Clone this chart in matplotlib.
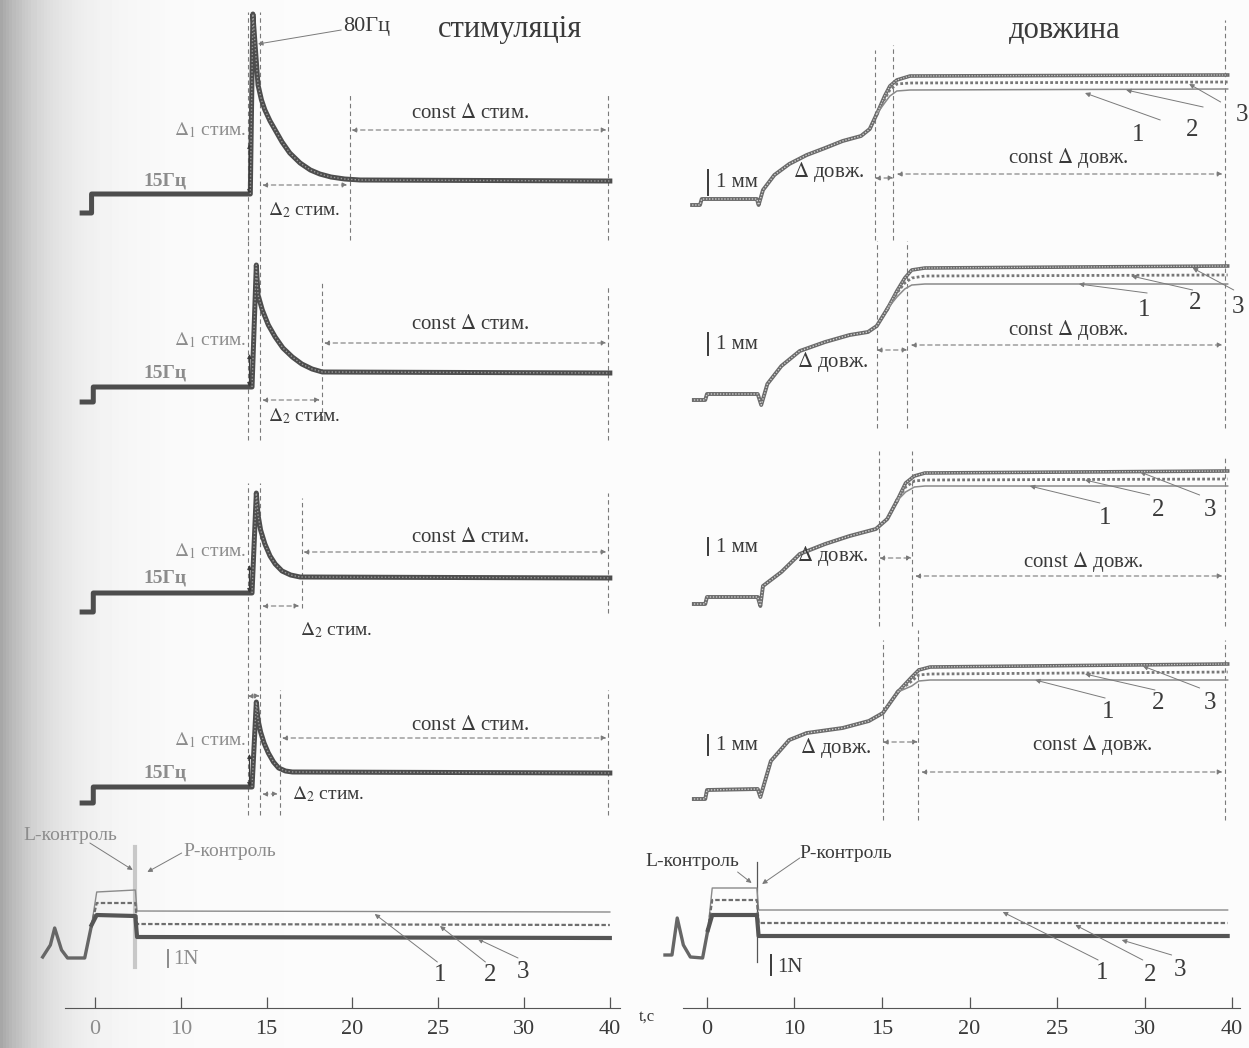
"""
Відтворення рисунка: стимуляція / довжина / сила (сканована ілюстрація).
Вісь часу має нерівномірні підписи, тому x задано в позиціях поділок (0..6).
"""
import matplotlib
matplotlib.use("Agg")
import matplotlib.pyplot as plt
import numpy as np

plt.rcParams["font.family"] = ["Liberation Serif", "DejaVu Serif"]
plt.rcParams["mathtext.fontset"] = "stix"

# ---------- дані (x: позиція поділки, y: умовні одиниці) ----------
tick_pos = [0, 1, 2, 3, 4, 5, 6]
tick_labels = ["0", "10", "15", "20", "25", "30", "40"]

# стимуляція, 4 ряди
stim1_t = [-0.15, -0.04, -0.04, 1.81, 1.84, 1.87, 1.90, 1.94, 1.98, 2.04, 2.10, 2.18, 2.27,
           2.39, 2.51, 2.62, 2.75, 2.91, 3.09, 6.00]
stim1_y = [27, 27, 46, 46, 226, 190, 155, 140, 130, 119, 110, 98, 87, 77, 70, 66, 63, 61, 60, 59]
stim2_t = [-0.15, -0.02, -0.02, 1.83, 1.88, 1.90, 1.95, 2.02, 2.10, 2.19, 2.30, 2.41, 2.53, 2.65, 6.00]
stim2_y = [38, 38, 53, 53, 175, 145, 130, 115, 103, 92, 83, 76, 71, 68, 67]
stim3_t = [-0.15, -0.02, -0.02, 1.83, 1.88, 1.90, 1.93, 1.98, 2.04, 2.10, 2.18, 2.28, 2.39, 6.00]
stim3_y = [28, 28, 47, 47, 147, 125, 110, 96, 84, 76, 69, 65, 63, 62]
stim4_t = [-0.15, -0.02, -0.02, 1.83, 1.88, 1.90, 1.93, 1.97, 2.02, 2.08, 2.14, 2.22, 2.30, 6.00]
stim4_y = [17, 17, 33, 33, 118, 100, 88, 77, 67, 58, 52, 49, 48, 47]
stim_settle_t = [2.97, 2.65, 2.41, 2.16]      # кінець Δ2 стим.

# довжина: спільна частина + три хвости (3, 2, 1)
len1_pre_t = [-0.17, -0.08, -0.06, 0.57, 0.59, 0.64, 0.77, 0.94, 1.14, 1.35, 1.55, 1.76, 1.86, 1.94]
len1_pre_y = [35, 35, 41, 41, 35, 50, 65, 76, 85, 92, 99, 104, 111, 126]
len1_tail_t = [1.94, 2.03, 2.09, 2.17, 2.32, 5.95]
len1_tail_y = [[126, 144, 154, 160, 164, 165],
               [126, 141, 150, 156, 157, 158],
               [126, 137, 144, 149, 150, 151]]

len2_pre_t = [-0.15, -0.02, 0.0, 0.58, 0.62, 0.69, 0.85, 1.06, 1.35, 1.63, 1.84, 1.94, 2.06]
len2_pre_y = [40, 40, 46, 46, 35, 56, 74, 89, 98, 105, 108, 114, 131]
len2_tail_t = [2.06, 2.17, 2.26, 2.34, 2.49, 5.95]
len2_tail_y = [[131, 149, 162, 170, 172, 174],
               [131, 147, 157, 162, 164, 165],
               [131, 143, 151, 155, 156, 156]]

len3_pre_t = [-0.15, -0.02, 0.0, 0.58, 0.61, 0.64, 0.85, 1.06, 1.35, 1.63, 1.93, 2.06, 2.17]
len3_pre_y = [36, 36, 43, 43, 34, 54, 68, 86, 96, 104, 111, 121, 139]
len3_tail_t = [2.17, 2.27, 2.37, 2.49, 5.95]
len3_tail_y = [[139, 157, 164, 167, 169],
               [139, 153, 159, 160, 161],
               [139, 148, 153, 154, 154]]

len4_pre_t = [-0.15, -0.02, 0.0, 0.58, 0.61, 0.73, 0.94, 1.14, 1.55, 1.85, 2.01, 2.18]
len4_pre_y = [21, 21, 30, 31, 23, 59, 80, 87, 92, 99, 107, 128]
len4_tail_t = [2.18, 2.34, 2.42, 2.55, 5.95]
len4_tail_y = [[128, 143, 150, 153, 156],
               [128, 139, 145, 146, 148],
               [128, 134, 139, 140, 140]]

# сила (L-контроль / P-контроль), криві 1, 2, 3
forceL_pre_t = [-0.61, -0.52, -0.47, -0.39, -0.32, -0.12, -0.04]
forceL_pre_y = [43, 55, 72, 50, 42, 42, 75]
forceL_tail_t = [-0.04, 0.02, 0.47, 0.49, 6.00]
forceL_tail_y = [[75, 108, 110, 89, 88],
                 [75, 97, 97, 76, 75],
                 [75, 85, 84, 63, 62]]

forceR_pre_t = [-0.48, -0.40, -0.34, -0.27, -0.19, -0.05, 0.01]
forceR_pre_y = [45, 45, 82, 55, 43, 42, 70]
forceR_tail_t = [0.01, 0.06, 0.57, 0.59, 5.95]
forceR_tail_y = [[70, 112, 112, 90, 90],
                 [70, 100, 100, 77, 77],
                 [70, 85, 85, 64, 64]]

# ---------- оформлення ----------
W, H = 1249, 1048
INK = "#3a3a3a"
TRACE = "#4d4d4d"
GUIDE = "#7a7a7a"
BLUR = "#8c8c8c"
DASH = (0, (4, 3))

fig = plt.figure(figsize=(W / 100, H / 100), dpi=100)

# тло скану: сіра смуга ліворуч
bg = fig.add_axes([0, 0, 1, 1])
bg.axis("off")
xx = np.linspace(0, W, 400)
shade = 0.985 - 0.33 * np.exp(-xx / 45)
bg.imshow(shade[None, :], cmap="gray", vmin=0, vmax=1, aspect="auto", extent=[0, W, 0, H])
bg.set_xlim(0, W)
bg.set_ylim(0, H)

LEFT = (40, 630, -0.641, 6.235)
RIGHT = (655, 1249, -0.594, 6.194)
ROWS = [(0, 240), (240, 440), (440, 640), (640, 820), (820, 1000)]


def panel(col, row):
    x0, x1, u0, u1 = col
    y0, y1 = ROWS[row]
    ax = fig.add_axes([x0 / W, 1 - y1 / H, (x1 - x0) / W, (y1 - y0) / H])
    ax.set_xlim(u0, u1)
    ax.set_ylim(0, y1 - y0)
    ax.axis("off")
    ax.patch.set_alpha(0)
    return ax


def vline(ax, u, a0, a1, **kw):
    ax.plot([u, u], [a0, a1], ls=DASH, lw=0.8, color=GUIDE, clip_on=False, **kw)


def darrow(ax, u0, u1, y):
    ax.annotate("", xy=(u1, y), xytext=(u0, y),
                arrowprops=dict(arrowstyle="<|-|>", ls=(0, (4, 3)), lw=0.8, color=GUIDE,
                                mutation_scale=7, shrinkA=0, shrinkB=0), annotation_clip=False)


def leader(ax, p_from, p_to, lw=0.7):
    ax.annotate("", xy=p_to, xytext=p_from,
                arrowprops=dict(arrowstyle="-|>", lw=lw, color=GUIDE, mutation_scale=7,
                                shrinkA=0, shrinkB=0), annotation_clip=False)


# ---------- ліва колонка: стимуляція ----------
stim_t = [stim1_t, stim2_t, stim3_t, stim4_t]
stim_y = [stim1_y, stim2_y, stim3_y, stim4_y]
stim_lay = [
    dict(on=(0, 228), settle=(0, 145), end=(0, 145), cy=110, cty=127, d2y=55, d2t=(2.02, 30), d1=110, hz=59),
    dict(on=(0, 200), settle=(20, 160), end=(0, 155), cy=97, cty=115, d2y=40, d2t=(2.02, 24), d1=100, hz=67),
    dict(on=(0, 157), settle=(32, 142), end=(27, 147), cy=88, cty=102, d2y=34, d2t=(2.39, 10), d1=89, hz=62),
    dict(on=(5, 180), settle=(5, 130), end=(5, 130), cy=82, cty=95, d2y=26, d2t=(2.30, 26), d1=80, hz=47),
]
for i in range(4):
    ax = panel(LEFT, i)
    lay = stim_lay[i]
    ax.plot(stim_t[i], stim_y[i], color=TRACE, lw=3.6, solid_joinstyle="round", zorder=3)
    ax.plot(stim_t[i][3:], stim_y[i][3:], color="#9a9a9a", lw=1.0, ls=(0, (1, 1.5)), zorder=4)
    vline(ax, 1.78, *lay["on"])
    vline(ax, 1.92, *lay["on"])
    vline(ax, stim_settle_t[i], *lay["settle"])
    vline(ax, 5.98, *lay["end"])
    darrow(ax, stim_settle_t[i] + 0.02, 5.96, lay["cy"])
    ax.text(4.37, lay["cty"], r"const $\Delta$ стим.", ha="center", va="center", fontsize=15, color=INK)
    darrow(ax, 1.95, stim_settle_t[i] - 0.03, lay["d2y"])
    d2x, d2yy = lay["d2t"]
    ax.text(d2x, d2yy, r"$\Delta_2$ стим.", ha="left", va="center", fontsize=14, color=INK)
    ax.text(1.76, lay["d1"], r"$\Delta_1$ стим.", ha="right", va="center", fontsize=14, color=BLUR)
    ax.annotate("", xy=(1.80, lay["d1"] - 14), xytext=(1.80, stim_y[i][3]),
                arrowprops=dict(arrowstyle="<|-|>", lw=0.8, color=INK, mutation_scale=6,
                                shrinkA=0, shrinkB=0))
    ax.text(0.82, lay["hz"], "15Гц", ha="center", va="center", fontsize=14, color=BLUR,
            fontweight="bold")
    if i == 0:
        ax.text(2.89, 213, "80Гц", ha="left", va="center", fontsize=16, color=INK)
        leader(ax, (2.87, 210), (1.90, 196))
        ax.text(4.84, 210, "стимуляція", ha="center", va="center", fontsize=22, color=INK)
    if i == 3:
        darrow(ax, 1.78, 1.92, 124)

# ---------- права колонка: довжина ----------
len_pre_t = [len1_pre_t, len2_pre_t, len3_pre_t, len4_pre_t]
len_pre_y = [len1_pre_y, len2_pre_y, len3_pre_y, len4_pre_y]
len_tail_t = [len1_tail_t, len2_tail_t, len3_tail_t, len4_tail_t]
len_tail_y = [len1_tail_y, len2_tail_y, len3_tail_y, len4_tail_y]
len_lay = [
    dict(v=(1.92, 2.13), vs=((0, 190), (0, 195)), end=(0, 220), dly=62, cy=66, ct=(4.13, 82),
         mm=(45, 70, 57), dlt=(0.98, 68),
         lab=[(4.93, 105), (5.54, 110), (6.11, 125)],
         lead=[((5.18, 120), (4.32, 147)), ((5.67, 133), (4.79, 150)), ((5.87, 138), (5.51, 156))]),
    dict(v=(1.94, 2.29), vs=((12, 199), (12, 199)), end=(12, 199), dly=90, cy=95, ct=(4.13, 110),
         mm=(85, 107, 95), dlt=(1.03, 78),
         lab=[(5.0, 130), (5.58, 137), (6.07, 133)],
         lead=[((5.03, 147), (4.25, 156)), ((5.55, 150), (4.85, 164)), ((6.02, 150), (5.55, 172))]),
    dict(v=(1.97, 2.34), vs=((14, 189), (14, 189)), end=(14, 182), dly=82, cy=64, ct=(4.30, 78),
         mm=(85, 102, 92), dlt=(1.03, 84),
         lab=[(4.55, 122), (5.15, 130), (5.75, 130)],
         lead=[((4.49, 137), (3.69, 154)), ((5.06, 145), (4.32, 160)), ((5.63, 145), (4.95, 168))]),
    dict(v=(2.01, 2.41), vs=((0, 180), (0, 190)), end=(0, 180), dly=78, cy=48, ct=(4.40, 75),
         mm=(65, 85, 74), dlt=(1.06, 72),
         lab=[(4.58, 108), (5.15, 117), (5.75, 117)],
         lead=[((4.55, 122), (3.75, 140)), ((5.12, 130), (4.32, 146)), ((5.63, 132), (4.98, 154))]),
]
for i in range(4):
    ax = panel(RIGHT, i)
    lay = len_lay[i]
    ax.plot(len_pre_t[i], len_pre_y[i], color="#6a6a6a", lw=2.8, zorder=3)
    ax.plot(len_pre_t[i], len_pre_y[i], color="#cfcfcf", lw=1.0, ls=(0, (1, 1.2)), zorder=4)
    t3, t2, t1 = len_tail_y[i]
    ax.plot(len_tail_t[i], t3, color="#6a6a6a", lw=2.6, zorder=3)
    ax.plot(len_tail_t[i], t3, color="#d0d0d0", lw=0.9, ls=(0, (1, 1.2)), zorder=4)
    ax.plot(len_tail_t[i], t2, color="#777777", lw=2.0, ls=(0, (1, 0.8)), zorder=3)
    ax.plot(len_tail_t[i], t1, color="#8a8a8a", lw=1.1, zorder=3)
    vline(ax, lay["v"][0], *lay["vs"][0])
    vline(ax, lay["v"][1], *lay["vs"][1])
    vline(ax, 5.92, *lay["end"])
    darrow(ax, lay["v"][0], lay["v"][1], lay["dly"])
    darrow(ax, lay["v"][1] + 0.04, 5.89, lay["cy"])
    ax.text(lay["ct"][0], lay["ct"][1], r"const $\Delta$ довж.", ha="center", va="center",
            fontsize=15, color=INK)
    ax.plot([0.01, 0.01], lay["mm"][:2], color=INK, lw=1.4)
    ax.text(0.10, lay["mm"][2], "1 мм", ha="left", va="center", fontsize=15, color=INK)
    ax.text(lay["dlt"][0], lay["dlt"][1], r"$\Delta$ довж.", ha="left", va="center",
            fontsize=15, color=INK)
    for k, (lx, ly) in enumerate(lay["lab"]):
        ax.text(lx, ly, str(k + 1), ha="center", va="center", fontsize=18, color=INK)
        leader(ax, *lay["lead"][k])
    if i == 0:
        ax.text(4.09, 210, "довжина", ha="center", va="center", fontsize=22, color=INK)

# ---------- нижній ряд: сила ----------
force_cfg = [
    (LEFT, forceL_pre_t, forceL_pre_y, forceL_tail_t, forceL_tail_y,
     dict(vl=0.466, vls=(33, 153), vc="#c8c8c8", vw=3.0, L=(-0.29, 165), Lc=BLUR, P=(1.03, 148),
          Pc=BLUR, Lp=((-0.06, 157), (0.44, 130)), Pp=((1.01, 147), (0.61, 128)),
          nb=(0.85, 33, 50), nt=(0.91, 40), nc=BLUR,
          lab=[(4.02, 25), (4.60, 25), (4.99, 28)],
          lead=[((3.99, 38), (3.26, 86)), ((4.55, 38), (4.02, 74)), ((4.93, 42), (4.46, 61))])),
    (RIGHT, forceR_pre_t, forceR_pre_y, forceR_tail_t, forceR_tail_y,
     dict(vl=0.571, vls=(38, 138), vc="#555555", vw=0.9, L=(-0.17, 138), Lc=INK, P=(1.06, 147),
          Pc=INK, Lp=((0.35, 128), (0.51, 117)), Pp=((1.06, 142), (0.63, 116)),
          nb=(0.73, 25, 45), nt=(0.80, 32), nc=INK,
          lab=[(4.51, 27), (5.06, 25), (5.41, 30)],
          lead=[((4.47, 40), (3.38, 88)), ((4.98, 40), (4.21, 75)), ((5.31, 45), (4.74, 60))])),
]
for col, pt, py, tt, ty, lay in force_cfg:
    ax = panel(col, 4)
    ax.plot(pt, py, color="#666666", lw=2.4, zorder=3)
    ax.plot(tt, ty[0], color="#8a8a8a", lw=1.0, zorder=3)
    ax.plot(tt, ty[1], color="#6e6e6e", lw=1.6, ls=(0, (2, 1)), zorder=3)
    ax.plot(tt, ty[2], color="#555555", lw=3.0, zorder=3)
    ax.plot([lay["vl"], lay["vl"]], lay["vls"], color=lay["vc"], lw=lay["vw"], zorder=2)
    ax.text(*lay["L"], "L-контроль", ha="center", va="center", fontsize=14, color=lay["Lc"])
    ax.text(*lay["P"], "P-контроль", ha="left", va="center", fontsize=14, color=lay["Pc"])
    leader(ax, *lay["Lp"])
    leader(ax, *lay["Pp"])
    ax.plot([lay["nb"][0]] * 2, lay["nb"][1:], color=lay["nc"], lw=1.4)
    ax.text(*lay["nt"], "1N", ha="left", va="center", fontsize=15, color=lay["nc"])
    for k, (lx, ly) in enumerate(lay["lab"]):
        ax.text(lx, ly, str(k + 1), ha="center", va="center", fontsize=18, color=INK)
        leader(ax, *lay["lead"][k])

# ---------- осі часу ----------
for col, bounds in [(LEFT, (-0.35, 6.12)), (RIGHT, (-0.27, 6.09))]:
    x0, x1, u0, u1 = col
    ax = fig.add_axes([x0 / W, 1 - 1008 / H, (x1 - x0) / W, 20 / H])
    ax.patch.set_alpha(0)
    ax.set_xlim(u0, u1)
    ax.set_yticks([])
    for s in ["top", "left", "right"]:
        ax.spines[s].set_visible(False)
    ax.spines["bottom"].set_bounds(*bounds)
    ax.spines["bottom"].set_color("#555555")
    ax.set_xticks(tick_pos)
    ax.set_xticklabels(tick_labels)
    ax.tick_params(axis="x", direction="in", length=8, width=0.9, color="#555555",
                   labelsize=16, labelcolor=INK, pad=9)
    if col is LEFT:
        for lbl in ax.get_xticklabels()[:2]:
            lbl.set_color(BLUR)

fig.text(647 / W, 1 - 1017 / H, "t,c", ha="center", va="center", fontsize=12, color=INK)

fig.savefig("out.png", dpi=100)
